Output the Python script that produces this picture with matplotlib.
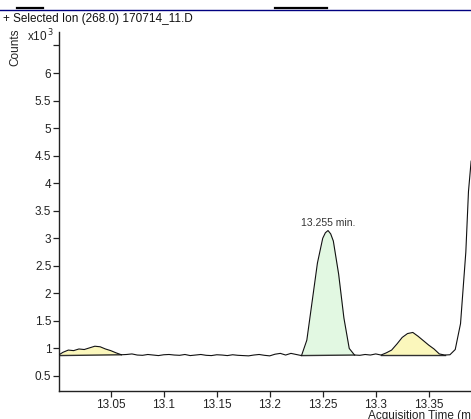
import numpy as np
import matplotlib.pyplot as plt
from matplotlib.lines import Line2D

plt.rcParams['font.family'] = ['Liberation Sans', 'DejaVu Sans']

# Extracted ion chromatogram, m/z 268.0 (counts in thousands)
time_min = [
    13.000, 13.005, 13.010, 13.015, 13.020, 13.025, 13.030, 13.035, 13.040, 13.045,
    13.050, 13.055, 13.060, 13.065, 13.070, 13.075, 13.080, 13.085, 13.090, 13.095,
    13.100, 13.105, 13.110, 13.115, 13.120, 13.125, 13.130, 13.135, 13.140, 13.145,
    13.150, 13.155, 13.160, 13.165, 13.170, 13.175, 13.180, 13.185, 13.190, 13.195,
    13.200, 13.205, 13.210, 13.215, 13.220, 13.225, 13.230, 13.235, 13.240, 13.245,
    13.250, 13.2525, 13.255, 13.2575, 13.260, 13.265, 13.270, 13.275, 13.280, 13.285,
    13.290, 13.295, 13.300, 13.305, 13.310, 13.315, 13.320, 13.325, 13.330, 13.335,
    13.340, 13.345, 13.350, 13.355, 13.360, 13.365, 13.370, 13.375, 13.380, 13.385,
    13.3875, 13.390,
]
counts_k = [
    0.87, 0.93, 0.97, 0.96, 0.99, 0.98, 1.01, 1.04, 1.03, 0.99,
    0.96, 0.92, 0.885, 0.89, 0.90, 0.88, 0.875, 0.89, 0.88, 0.87,
    0.885, 0.89, 0.88, 0.875, 0.89, 0.87, 0.88, 0.89, 0.875, 0.87,
    0.885, 0.88, 0.87, 0.885, 0.875, 0.87, 0.865, 0.88, 0.89, 0.875,
    0.865, 0.895, 0.91, 0.88, 0.91, 0.89, 0.87, 1.15, 1.85, 2.55,
    3.00, 3.10, 3.14, 3.08, 2.95, 2.35, 1.55, 1.00, 0.88, 0.875,
    0.89, 0.88, 0.90, 0.88, 0.92, 0.97, 1.08, 1.20, 1.27, 1.29,
    1.22, 1.14, 1.06, 0.99, 0.90, 0.88, 0.885, 0.98, 1.45, 2.75,
    3.85, 4.40,
]

# Integrated peaks: (start, end, fill colour)
peak_windows = [
    (13.000, 13.060, '#fbf7bc'),
    (13.230, 13.280, '#e2f8e2'),
    (13.305, 13.365, '#fbf7bc'),
]
labelled_peak = 1
apex_text = '13.255 min.'

x_ticks = [13.05, 13.10, 13.15, 13.20, 13.25, 13.30, 13.35]
y_ticks = [0.5, 1.0, 1.5, 2.0, 2.5, 3.0, 3.5, 4.0, 4.5, 5.0, 5.5, 6.0, 6.5]

W, H = 471, 419
fig = plt.figure(figsize=(W / 100, H / 100), dpi=100)
fig.patch.set_facecolor('white')

ax_left, ax_right, ax_top, ax_bottom = 59, 471, 32, 391
ax = fig.add_axes([ax_left / W, 1 - ax_bottom / H,
                   (ax_right - ax_left) / W, (ax_bottom - ax_top) / H])

t = np.array(time_min)
c = np.array(counts_k)

for i, (t0, t1, col) in enumerate(peak_windows):
    m = (t >= t0) & (t <= t1)
    tt, cc = t[m], c[m]
    base = np.interp(tt, [tt[0], tt[-1]], [cc[0], cc[-1]])
    ax.fill_between(tt, base, cc, color=col, lw=0, zorder=1)
    ax.plot([tt[0], tt[-1]], [cc[0], cc[-1]], color='#303030', lw=1.0, zorder=2)
    if i == labelled_peak:
        k = np.argmax(cc)
        ax.annotate(apex_text, (tt[k], cc[k]), xytext=(0, 1.5), textcoords='offset points',
                    ha='center', va='bottom', fontsize=7.5, color='#333333')

ax.plot(t, c, color='#111111', lw=0.8, zorder=3)

ax.set_xlim(13.0012, 13.0012 + (ax_right - ax_left) / 1060)
ax.set_ylim(0.227, 6.745)

ax.set_xticks(x_ticks)
ax.set_xticklabels([f'{v:g}' for v in x_ticks])
ax.set_yticks(y_ticks)
ax.set_yticklabels([f'{v:g}' if v < 6.25 else '' for v in y_ticks])

for s in ('top', 'right'):
    ax.spines[s].set_visible(False)
for s in ('left', 'bottom'):
    ax.spines[s].set_color('#222222')
    ax.spines[s].set_linewidth(1.0)
ax.tick_params(direction='out', length=4, width=0.9, color='#222222',
               labelsize=8.5, labelcolor='#222222', pad=1.5)

# Header and axis captions
fig.text(3 / W, 1 - 19 / H, '+ Selected Ion (268.0) 170714_11.D',
         fontsize=8.5, color='#111111', ha='left', va='center')
fig.text(27 / W, 1 - 36 / H, r'x10$^{\,3}$', fontsize=8.5, color='#222222',
         ha='left', va='center')
fig.text(15 / W, 1 - 47 / H, 'Counts', fontsize=8.5, color='#222222',
         rotation=90, ha='center', va='center')
fig.text(368 / W, 1 - 410 / H, 'Acquisition Time (min)', fontsize=8.5,
         color='#222222', ha='left', va='top')

# Window frame line and toolbar marks
fig.add_artist(Line2D([0, 1], [1 - 10 / H] * 2, color='#000080', lw=1.0))
fig.add_artist(Line2D([17 / W, 43 / W], [1 - 8.5 / H] * 2, color='black', lw=1.6))
fig.add_artist(Line2D([275 / W, 327 / W], [1 - 8.5 / H] * 2, color='black', lw=1.6))

fig.savefig('out.png', dpi=100)
